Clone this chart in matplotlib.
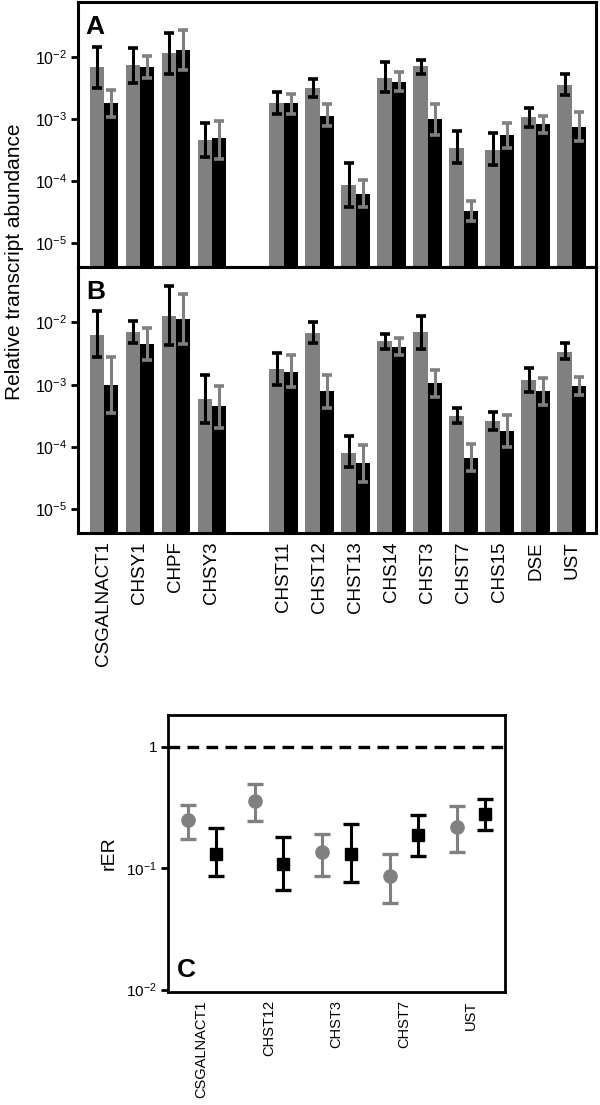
import numpy as np
import matplotlib
matplotlib.use("Agg")
import matplotlib.pyplot as plt

plt.rcParams['font.family'] = ['Liberation Sans', 'DejaVu Sans']
plt.rcParams['mathtext.fontset'] = 'custom'
plt.rcParams['mathtext.rm'] = 'Liberation Sans'
plt.rcParams['mathtext.default'] = 'regular'

# genes for panels A and B (one empty slot after CHSY3)
genes = ['CSGALNACT1', 'CHSY1', 'CHPF', 'CHSY3', 'CHST11', 'CHST12', 'CHST13',
         'CHS14', 'CHST3', 'CHST7', 'CHS15', 'DSE', 'UST']
slots = [0, 1, 2, 3, 5, 6, 7, 8, 9, 10, 11, 12, 13]

# panel A
a_gray = [6.9e-3, 7.4e-3, 1.15e-2, 4.6e-4, 1.8e-3, 3.2e-3, 8.7e-5, 4.7e-3, 7.1e-3, 3.5e-4, 3.2e-4, 1.08e-3, 3.6e-3]
a_gray_hi = [1.45e-2, 1.41e-2, 2.45e-2, 8.7e-4, 2.8e-3, 4.4e-3, 1.95e-4, 8.5e-3, 8.9e-3, 6.5e-4, 5.9e-4, 1.5e-3, 5.4e-3]
a_gray_lo = [3.2e-3, 3.8e-3, 5.4e-3, 2.45e-4, 1.2e-3, 2.3e-3, 3.8e-5, 2.75e-3, 5.4e-3, 1.95e-4, 1.8e-4, 7.4e-4, 2.5e-3]
a_black = [1.8e-3, 6.9e-3, 1.3e-2, 4.9e-4, 1.8e-3, 1.15e-3, 6.2e-5, 4.0e-3, 1.0e-3, 3.3e-5, 5.5e-4, 8.3e-4, 7.6e-4]
a_black_hi = [3.0e-3, 1.05e-2, 2.75e-2, 9.5e-4, 2.6e-3, 1.74e-3, 1.05e-4, 5.75e-3, 1.78e-3, 4.8e-5, 8.7e-4, 1.15e-3, 1.29e-3]
a_black_lo = [1.07e-3, 4.6e-3, 6.2e-3, 2.25e-4, 1.23e-3, 7.8e-4, 3.8e-5, 2.9e-3, 5.6e-4, 2.3e-5, 3.4e-4, 5.9e-4, 4.5e-4]

# panel B
b_gray = [6.4e-3, 6.9e-3, 1.26e-2, 5.9e-4, 1.8e-3, 6.7e-3, 8.1e-5, 5.0e-3, 6.9e-3, 3.2e-4, 2.6e-4, 1.2e-3, 3.4e-3]
b_gray_hi = [1.5e-2, 1.05e-2, 3.8e-2, 1.45e-3, 3.2e-3, 1.02e-2, 1.48e-4, 6.6e-3, 1.26e-2, 4.2e-4, 3.7e-4, 1.86e-3, 4.7e-3]
b_gray_lo = [2.75e-3, 4.7e-3, 4.3e-3, 2.4e-4, 9.8e-4, 4.6e-3, 4.7e-5, 3.8e-3, 3.8e-3, 2.4e-4, 1.86e-4, 7.6e-4, 2.6e-3]
b_black = [9.8e-4, 4.5e-3, 1.15e-2, 4.6e-4, 1.6e-3, 7.8e-4, 5.5e-5, 4.1e-3, 1.05e-3, 6.7e-5, 1.8e-4, 7.8e-4, 9.4e-4]
b_black_hi = [2.75e-3, 8.1e-3, 2.9e-2, 9.5e-4, 2.95e-3, 1.45e-3, 1.07e-4, 5.6e-3, 1.74e-3, 1.12e-4, 3.3e-4, 1.26e-3, 1.35e-3]
b_black_lo = [3.5e-4, 2.45e-3, 4.5e-3, 2.0e-4, 9.1e-4, 4.2e-4, 2.75e-5, 2.95e-3, 6.3e-4, 4.2e-5, 1.02e-4, 4.8e-4, 6.8e-4]

# panel C
c_genes = ['CSGALNACT1', 'CHST12', 'CHST3', 'CHST7', 'UST']
c_gray = [0.25, 0.36, 0.136, 0.087, 0.218]
c_gray_hi = [0.33, 0.49, 0.193, 0.132, 0.326]
c_gray_lo = [0.174, 0.245, 0.087, 0.052, 0.135]
c_black = [0.132, 0.109, 0.13, 0.186, 0.277]
c_black_hi = [0.214, 0.18, 0.23, 0.273, 0.37]
c_black_lo = [0.086, 0.066, 0.077, 0.126, 0.205]

GRAY = '#808080'
decade_ticks = [1e-2, 1e-3, 1e-4, 1e-5]
decade_labels = ['$10^{-2}$', '$10^{-3}$', '$10^{-4}$', '$10^{-5}$']

fig = plt.figure(figsize=(6, 11.05), dpi=100)


def bar_panel(ax, g, g_hi, g_lo, k, k_hi, k_lo, letter):
    x = np.array(slots, dtype=float)
    g, g_hi, g_lo = map(np.array, (g, g_hi, g_lo))
    k, k_hi, k_lo = map(np.array, (k, k_hi, k_lo))
    base = 1e-7
    ax.bar(x - 0.2, g - base, bottom=base, width=0.4, color=GRAY, zorder=2)
    ax.bar(x + 0.2, k - base, bottom=base, width=0.4, color='black', zorder=2)
    ax.errorbar(x - 0.2, g, yerr=[g - g_lo, g_hi - g], fmt='none', ecolor='black',
                elinewidth=2.2, capsize=3.4, capthick=2.6, zorder=3)
    ax.errorbar(x + 0.2, k, yerr=[k - k_lo, k_hi - k], fmt='none', ecolor=GRAY,
                elinewidth=2.2, capsize=3.4, capthick=2.6, zorder=3)
    ax.set_yscale('log')
    ax.set_ylim(10 ** -5.38, 10 ** -1.11)
    ax.set_xlim(-0.72, 13.67)
    ax.set_yticks(decade_ticks)
    ax.set_yticklabels(decade_labels)
    ax.yaxis.set_minor_locator(matplotlib.ticker.NullLocator())
    ax.tick_params(axis='y', direction='out', length=5, width=2, labelsize=11.5, pad=3)
    ax.tick_params(axis='x', length=0)
    for s in ax.spines.values():
        s.set_linewidth(2.2)
    ax.text(0.015, 0.95, letter, transform=ax.transAxes, fontsize=19,
            fontweight='bold', va='top', ha='left')


axA = fig.add_axes([0.13, 0.7584, 0.8633, 0.2398])
bar_panel(axA, a_gray, a_gray_hi, a_gray_lo, a_black, a_black_hi, a_black_lo, 'A')
axA.set_xticks([])

axB = fig.add_axes([0.13, 0.5176, 0.8633, 0.2408])
bar_panel(axB, b_gray, b_gray_hi, b_gray_lo, b_black, b_black_hi, b_black_lo, 'B')
axB.set_xticks(slots)
axB.set_xticklabels(genes, rotation=90, fontsize=13.5)
axB.tick_params(axis='x', pad=6)

fig.text(0.025, 1 - 262 / 1105, 'Relative transcript abundance', rotation=90,
         fontsize=15, ha='center', va='center')

# panel C
axC = fig.add_axes([0.28, 0.1023, 0.5617, 0.2507])
xc = np.arange(len(c_genes), dtype=float)
cg, cg_hi, cg_lo = map(np.array, (c_gray, c_gray_hi, c_gray_lo))
ck, ck_hi, ck_lo = map(np.array, (c_black, c_black_hi, c_black_lo))
axC.axhline(1, color='black', lw=2.4, ls=(0, (3.5, 2.2)), zorder=1)
axC.errorbar(xc - 0.21, cg, yerr=[cg - cg_lo, cg_hi - cg], fmt='o', color=GRAY,
             ms=9.5, elinewidth=2.2, capsize=6, capthick=2.4, zorder=3)
axC.errorbar(xc + 0.21, ck, yerr=[ck - ck_lo, ck_hi - ck], fmt='s', color='black',
             ms=9, elinewidth=2.2, capsize=6, capthick=2.4, zorder=3)
axC.set_yscale('log')
axC.set_ylim(10 ** -2.02, 10 ** 0.263)
axC.set_xlim(-0.5, 4.5)
axC.set_yticks([1, 1e-1, 1e-2])
axC.set_yticklabels(['1', '$10^{-1}$', '$10^{-2}$'])
axC.yaxis.set_minor_locator(matplotlib.ticker.NullLocator())
axC.tick_params(axis='y', direction='out', length=5, width=2, labelsize=11, pad=3)
axC.set_xticks(xc)
axC.set_xticklabels(c_genes, rotation=90, fontsize=10.5)
axC.tick_params(axis='x', length=0, pad=6)
for s in axC.spines.values():
    s.set_linewidth(2)
axC.set_ylabel('rER', fontsize=14, labelpad=6)
axC.text(0.025, 0.035, 'C', transform=axC.transAxes, fontsize=19,
         fontweight='bold', va='bottom', ha='left')

fig.savefig('out.png', dpi=100)
